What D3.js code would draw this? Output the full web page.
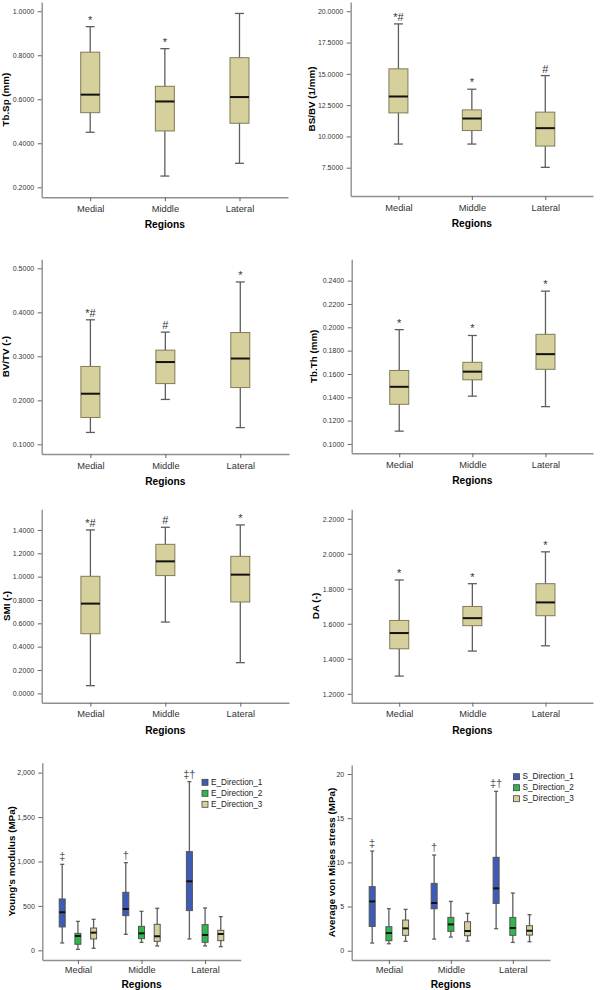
<!DOCTYPE html>
<html><head><meta charset="utf-8">
<script src="https://cdn.jsdelivr.net/npm/d3@7"></script>
<style>
body{margin:0;background:#fff}
svg text{font-family:"Liberation Sans",Arial,sans-serif}
</style>
</head><body>
<script>
// ---------------- DATA ----------------
const regions = ["Medial", "Middle", "Lateral"];
// each entry: [min, q1, median, q3, max]
const tbSp = [[0.450, 0.539, 0.621, 0.814, 0.930], [0.251, 0.456, 0.590, 0.659, 0.830], [0.309, 0.491, 0.610, 0.789, 0.990]];
const tbSpMarks = ["*", "*", ""];
const bsBv = [[9.39, 11.88, 13.19, 15.40, 18.99], [9.39, 10.47, 11.43, 12.12, 13.77], [7.53, 9.23, 10.66, 11.94, 14.86]];
const bsBvMarks = ["*#", "*", "#"];
const bvTv = [[0.127, 0.161, 0.215, 0.277, 0.383], [0.202, 0.238, 0.287, 0.314, 0.355], [0.138, 0.229, 0.295, 0.354, 0.469]];
const bvTvMarks = ["*#", "#", "*"];
const tbTh = [[0.111, 0.134, 0.149, 0.163, 0.198], [0.141, 0.155, 0.162, 0.170, 0.193], [0.132, 0.164, 0.177, 0.194, 0.231]];
const tbThMarks = ["*", "*", "*"];
const smi = [[0.066, 0.511, 0.769, 1.003, 1.400], [0.611, 1.009, 1.131, 1.277, 1.423], [0.263, 0.783, 1.017, 1.174, 1.443]];
const smiMarks = ["*#", "#", "*"];
const da = [[1.301, 1.457, 1.547, 1.619, 1.850], [1.444, 1.589, 1.632, 1.699, 1.829], [1.474, 1.646, 1.722, 1.829, 2.011]];
const daMarks = ["*", "*", "*"];

const eSeries = ["E_Direction_1", "E_Direction_2", "E_Direction_3"];
const eDir1 = [[83, 263, 428, 578, 968], [180, 390, 465, 653, 987], [128, 447, 777, 1111, 1899]];
const eDir2 = [[11, 68, 161, 191, 326], [90, 131, 191, 270, 439], [49, 90, 173, 289, 477]];
const eDir3 = [[23, 128, 199, 251, 349], [49, 101, 158, 293, 473], [41, 109, 184, 225, 379]];
const eMarks = ["‡", "†", "‡†"];

const sSeries = ["S_Direction_1", "S_Direction_2", "S_Direction_3"];
const sDir1 = [[0.87, 2.75, 5.58, 7.25, 11.28], [1.32, 4.75, 5.40, 7.62, 10.83], [2.49, 5.36, 7.06, 10.57, 18.04]];
const sDir2 = [[0.79, 1.13, 2.00, 2.72, 4.75], [1.55, 2.19, 2.98, 3.77, 5.58], [0.94, 1.74, 2.57, 3.77, 6.53]];
const sDir3 = [[1.06, 1.74, 2.53, 3.47, 4.68], [1.09, 1.70, 2.23, 3.28, 4.23], [1.02, 1.77, 2.26, 2.83, 4.08]];
const sMarks = ["‡", "†", "‡†"];

// tick labels
const tbSpTicks = [0.2, 0.4, 0.6, 0.8, 1.0];
const bsBvTicks = [7.5, 10, 12.5, 15, 17.5, 20];
const bvTvTicks = [0.1, 0.2, 0.3, 0.4, 0.5];
const tbThTicks = [0.10, 0.12, 0.14, 0.16, 0.18, 0.20, 0.22, 0.24];
const smiTicks = [0, 0.2, 0.4, 0.6, 0.8, 1.0, 1.2, 1.4];
const daTicks = [1.2, 1.4, 1.6, 1.8, 2.0, 2.2];
const eTicks = [0, 500, 1000, 1500, 2000];
const sTicks = [0, 5, 10, 15, 20];

// ---------------- STYLE ----------------
const TAN = "#d6d19c", BLUE = "#3d5cb8", GREEN = "#2eb84c";
const seriesColors = [BLUE, GREEN, TAN];
const AXIS = "#8f8f8f", WHISK = "#5e5e5e", BOXSTROKE = "#7f7b58";

const svg = d3.select("body").append("svg").attr("width", 600).attr("height", 990);

function panel(o) {
  const g = svg.append("g");
  const y = d3.scaleLinear().domain(o.domain).range([o.bottom, o.top]);
  const x = d3.scalePoint().domain(regions).range([o.left, o.right]).padding(o.pad);

  const ya = d3.axisLeft(y).tickValues(o.ticks).tickFormat(o.fmt).tickSize(4).tickSizeOuter(0).tickPadding(3.5);
  const yg = g.append("g").attr("transform", `translate(${o.left},0)`).call(ya);
  const xa = d3.axisBottom(x).tickSize(4).tickSizeOuter(0).tickPadding(o.xpad || 4);
  const xg = g.append("g").attr("transform", `translate(0,${o.bottom})`).call(xa);
  [yg, xg].forEach(a => {
    a.select(".domain").attr("stroke", AXIS).attr("stroke-width", 1.4);
    a.selectAll(".tick line").attr("stroke", "#666").attr("stroke-width", 1);
  });
  yg.selectAll(".tick text").attr("font-size", 7).attr("fill", "#333");
  xg.selectAll(".tick text").attr("font-size", 9.3).attr("fill", "#333");

  g.append("text").attr("x", (o.left + o.right) / 2).attr("y", o.bottom + (o.regDy || 31))
    .attr("text-anchor", "middle").attr("font-size", 10.2).attr("font-weight", "bold").text("Regions");
  g.append("text").attr("transform", `translate(${o.ylx},${(o.top + o.bottom) / 2}) rotate(-90)`)
    .attr("text-anchor", "middle").attr("dominant-baseline", "central")
    .attr("font-size", 9.8).attr("font-weight", "bold").text(o.ylabel);

  const series = o.series;
  const nS = series.length;
  series.forEach((s, si) => {
    const off = nS === 1 ? 0 : (si - 1) * o.gap;
    s.forEach((st, ci) => {
      const cx = x(regions[ci]) + off;
      const [mn, q1, md, q3, mx] = st;
      const bw = o.bw, cw = o.cw;
      g.append("line").attr("x1", cx).attr("x2", cx).attr("y1", y(mn)).attr("y2", y(mx))
        .attr("stroke", WHISK).attr("stroke-width", 1.3);
      [mn, mx].forEach(v => g.append("line").attr("x1", cx - cw / 2).attr("x2", cx + cw / 2)
        .attr("y1", y(v)).attr("y2", y(v)).attr("stroke", WHISK).attr("stroke-width", 1.3));
      g.append("rect").attr("x", cx - bw / 2).attr("width", bw).attr("y", y(q3)).attr("height", y(q1) - y(q3))
        .attr("fill", o.colors[si]).attr("stroke", nS === 1 ? BOXSTROKE : "#555").attr("stroke-width", 1);
      g.append("line").attr("x1", cx - bw / 2).attr("x2", cx + bw / 2).attr("y1", y(md)).attr("y2", y(md))
        .attr("stroke", "#111").attr("stroke-width", 2);
      if (si === 0 && o.marks[ci]) {
        g.append("text").attr("x", cx).attr("y", y(mx) - (nS === 1 ? 3 : 4))
          .attr("text-anchor", "middle").attr("font-size", 11)
          .attr("fill", nS === 1 ? "#333" : "#555").text(o.marks[ci]);
      }
    });
  });

  if (o.legend) {
    o.legend.forEach((name, i) => {
      const ly = o.legY + i * 11;
      g.append("rect").attr("x", o.legX).attr("y", ly - 3).attr("width", 6).attr("height", 6)
        .attr("fill", o.colors[i]).attr("stroke", "#444").attr("stroke-width", 0.8);
      g.append("text").attr("x", o.legX + 9).attr("y", ly).attr("dominant-baseline", "central")
        .attr("font-size", 8.2).attr("fill", "#222").text(name);
    });
  }
}

const f4 = d3.format(".4f");

panel({left: 41.7, right: 288, top: 2, bottom: 197.3, domain: [0.1545, 1.042], pad: 0.65,
  ticks: tbSpTicks, fmt: f4, ylabel: "Tb.Sp (mm)", ylx: 5, series: [tbSp], marks: tbSpMarks,
  colors: [TAN], bw: 19, cw: 9});
panel({left: 350.7, right: 593, top: 2, bottom: 196, domain: [5.24, 20.74], pad: 0.65,
  ticks: bsBvTicks, fmt: f4, ylabel: "BS/BV (1/mm)", ylx: 311, series: [bsBv], marks: bsBvMarks,
  colors: [TAN], bw: 19, cw: 9});
panel({left: 41.7, right: 289, top: 259.3, bottom: 454, domain: [0.078, 0.5205], pad: 0.65,
  ticks: bvTvTicks, fmt: f4, ylabel: "BV/TV (-)", ylx: 5.5, series: [bvTv], marks: bvTvMarks,
  colors: [TAN], bw: 19, cw: 9});
panel({left: 351.7, right: 593, top: 259.3, bottom: 453.3, domain: [0.092, 0.2583], pad: 0.65,
  ticks: tbThTicks, fmt: f4, ylabel: "Tb.Th (mm)", ylx: 313, series: [tbTh], marks: tbThMarks,
  colors: [TAN], bw: 19, cw: 9});
panel({left: 41.7, right: 289, top: 509.3, bottom: 702.7, domain: [-0.08, 1.577], pad: 0.65,
  ticks: smiTicks, fmt: f4, ylabel: "SMI (-)", ylx: 6.5, series: [smi], marks: smiMarks,
  colors: [TAN], bw: 19, cw: 9});
panel({left: 351.7, right: 593, top: 509.3, bottom: 702.7, domain: [1.149, 2.254], pad: 0.65,
  ticks: daTicks, fmt: f4, ylabel: "DA (-)", ylx: 315, series: [da], marks: daMarks,
  colors: [TAN], bw: 19, cw: 9});
panel({left: 42.3, right: 240.7, top: 762.7, bottom: 960, domain: [-109, 2112], pad: 0.56,
  ticks: eTicks, fmt: d3.format(","), ylabel: "Young's modulus (MPa)", ylx: 11, series: [eDir1, eDir2, eDir3],
  marks: eMarks, colors: seriesColors, bw: 6, cw: 4, gap: 15.7, legend: eSeries, legX: 202, legY: 782.3,
  xpad: 2.5, regDy: 27.5});
panel({left: 351.7, right: 550, top: 765, bottom: 960, domain: [-1.05, 21.02], pad: 0.6,
  ticks: sTicks, fmt: d3.format("d"), ylabel: "Average von Mises stress (MPa)", ylx: 331, series: [sDir1, sDir2, sDir3],
  marks: sMarks, colors: seriesColors, bw: 6, cw: 4, gap: 16.7, legend: sSeries, legX: 513.5, legY: 776.7,
  xpad: 2.5, regDy: 27.5});
</script>
</body></html>
